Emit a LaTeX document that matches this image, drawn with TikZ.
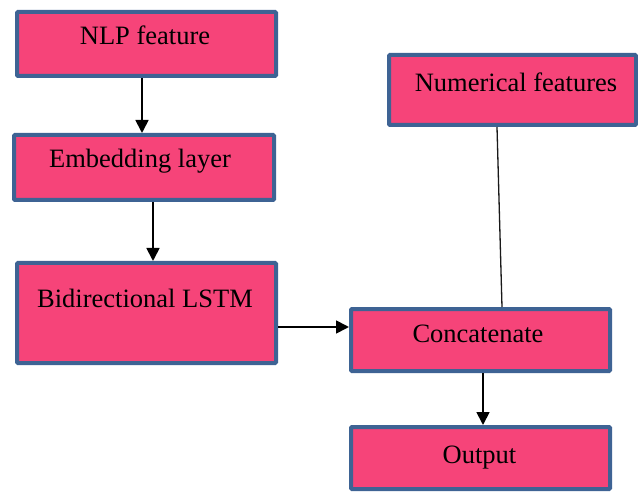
\documentclass[tikz,border=0pt]{standalone}
\usepackage{fontspec}
\setmainfont{Liberation Serif}
\usetikzlibrary{arrows.meta,calc}
\definecolor{boxfill}{RGB}{246,68,121}
\definecolor{boxedge}{RGB}{62,99,148}
\tikzset{
  block/.style={draw=boxedge, fill=boxfill, line width=4pt, rounded corners=1pt,
                inner sep=0pt, anchor=center},
  caption/.style={font=\fontsize{26.5}{30}\selectfont, anchor=base, inner sep=0pt, text=black},
  flow/.style={line width=1.8pt, draw=black, -{Triangle[width=13pt,length=13pt]}},
  link/.style={line width=1.3pt, draw=black!90}
}
\begin{document}
\begin{tikzpicture}[x=1pt,y=-1pt]
  \useasboundingbox (0,0) rectangle (638,492);

  % processing blocks
  \node[block, minimum width=259pt, minimum height=64pt]  (nlp)    at (146.5,44)  {};
  \node[block, minimum width=260pt, minimum height=65pt]  (emb)    at (144,167.5) {};
  \node[block, minimum width=259pt, minimum height=100pt] (lstm)   at (146.5,313) {};
  \node[block, minimum width=247pt, minimum height=70pt]  (num)    at (512.5,90)  {};
  \node[block, minimum width=259pt, minimum height=62pt]  (concat) at (480.5,340) {};
  \node[block, minimum width=259pt, minimum height=62pt]  (out)    at (480.5,458) {};

  % block captions
  \node[caption] (nlpT)    at (145,45)   {NLP feature};
  \node[caption] (embT)    at (140,168)  {Embedding layer};
  \node[caption] (lstmT)   at (145,307)  {Bidirectional LSTM};
  \node[caption] (numT)    at (516,92)   {Numerical features};
  \node[caption] (concatT) at (478,342)  {Concatenate};
  \node[caption] (outT)    at (479.5,463){Output};

  % connectors
  \coordinate (a1) at ([xshift=-4.5pt]nlp.south);
  \draw[flow] (a1) -- (a1 |- emb.north);
  \coordinate (a2) at ([xshift=9pt]emb.south);
  \draw[flow] (a2) -- (a2 |- lstm.north);
  \coordinate (a3) at ([yshift=-14pt]lstm.east);
  \draw[flow] (a3) -- (a3 -| concat.west);
  \draw[link] ([xshift=-15.5pt]num.south) -- ([xshift=21.5pt]concat.north);
  \coordinate (a4) at ([xshift=2.5pt]concat.south);
  \draw[flow] (a4) -- (a4 |- out.north);
\end{tikzpicture}
\end{document}
